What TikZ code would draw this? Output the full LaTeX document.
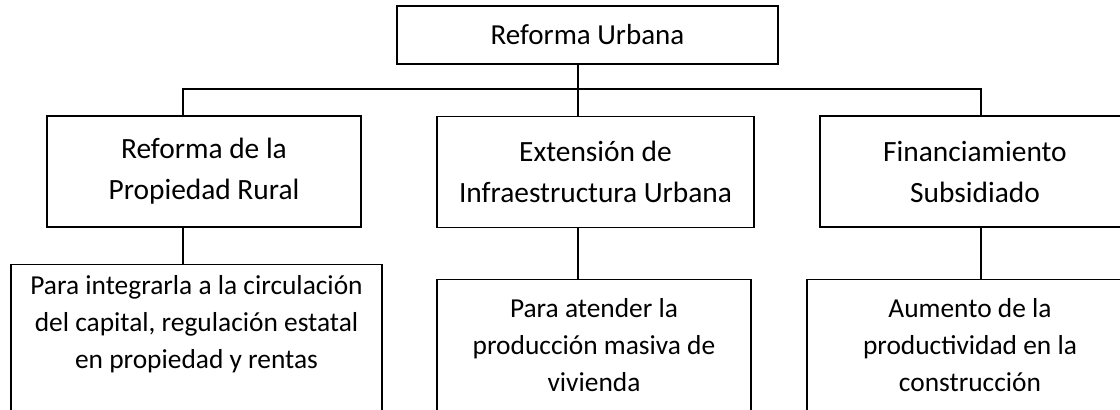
\documentclass[tikz,border=0pt]{standalone}
\usepackage{fontspec}
\setmainfont{Carlito}
\usetikzlibrary{positioning}

\begin{document}
\begin{tikzpicture}[
  x=0.5pt, y=-0.5pt,
  every node/.style={inner sep=0pt},
  head/.style={draw, line width=0.65pt, font=\fontsize{14.5}{17}\selectfont},
  mid/.style={draw, line width=0.65pt, minimum height=55.5pt, align=center,
    font=\fontsize{14.7}{20.5}\selectfont},
  foot/.style={draw, line width=0.65pt, anchor=north, minimum height=90pt},
  note/.style={align=center, font=\fontsize{13.7}{18.6}\selectfont},
  link/.style={line width=0.65pt}
]
\useasboundingbox (0,0) rectangle (1120,409);
\node[head, minimum width=190.5pt, minimum height=29pt] (ref) at (587.5,35) {Reforma Urbana};
\node[mid, minimum width=157pt] (prop) at (204,171.5) {Reforma de la\\Propiedad Rural};
\node[mid, minimum width=158.5pt] (infra) at (595.5,172) {Extensión de\\Infraestructura Urbana};
\node[mid, minimum width=155pt] (fin) at (975,171.5) {Financiamiento\\Subsidiado};
\node[foot, minimum width=185.5pt] (propB) at (196.5,264) {};
\node[foot, minimum width=157pt] (infraB) at (594,279) {};
\node[foot, minimum width=163pt] (finB) at (970,279) {};
\node[note, below=5.5pt of propB.north] (propT) {Para integrarla a la circulación\\del capital, regulación estatal\\en propiedad y rentas};
\node[note, below=9.5pt of infraB.north] (infraT) {Para atender la\\producción masiva de\\vivienda};
\node[note, below=9.5pt of finB.north] (finT) {Aumento de la\\productividad en la\\construcción};
\coordinate (busL) at (183,89);
\coordinate (busM) at (578,89);
\coordinate (busR) at (981,89);
\draw[link] (prop.north -| busL) -- (busL) -- (busR) -- (fin.north -| busR);
\draw[link] (ref.south -| busM) -- (infra.north -| busM);
\draw[link] (prop.south -| busL) -- (propB.north -| busL);
\draw[link] (infra.south -| busM) -- (infraB.north -| busM);
\draw[link] (fin.south -| busR) -- (finB.north -| busR);
\end{tikzpicture}
\end{document}
